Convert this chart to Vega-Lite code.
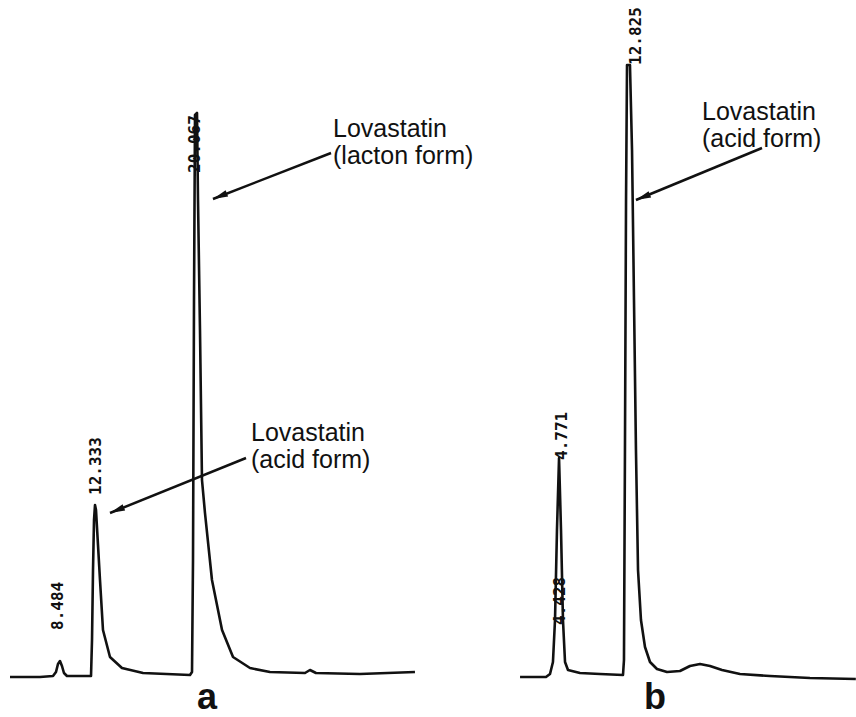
{
  "$schema": "https://vega.github.io/schema/vega-lite/v6.json",
  "padding": 0,
  "background": "white",
  "spacing": 10,
  "bounds": "flush",
  "config": {"view": {"stroke": null}},
  "datasets": {
    "traceA": [
      {"t": 3.10, "s": -2}, {"t": 6.41, "s": -2}, {"t": 7.84, "s": -1}, {"t": 8.17, "s": 3},
      {"t": 8.39, "s": 11}, {"t": 8.61, "s": 14}, {"t": 8.83, "s": 9}, {"t": 9.05, "s": 2},
      {"t": 9.38, "s": -1}, {"t": 12.03, "s": -1}, {"t": 12.14, "s": 35}, {"t": 12.25, "s": 105},
      {"t": 12.36, "s": 155}, {"t": 12.47, "s": 170}, {"t": 12.58, "s": 165}, {"t": 12.80, "s": 130},
      {"t": 13.02, "s": 95}, {"t": 13.35, "s": 45}, {"t": 14.12, "s": 18}, {"t": 15.44, "s": 7},
      {"t": 17.76, "s": 2}, {"t": 22.94, "s": 0}, {"t": 23.16, "s": 3}, {"t": 23.27, "s": 115},
      {"t": 23.38, "s": 375}, {"t": 23.49, "s": 560}, {"t": 23.71, "s": 562}, {"t": 23.82, "s": 475},
      {"t": 24.04, "s": 345}, {"t": 24.26, "s": 195}, {"t": 24.59, "s": 162}, {"t": 25.36, "s": 95},
      {"t": 26.47, "s": 45}, {"t": 27.68, "s": 18}, {"t": 29.55, "s": 7}, {"t": 31.75, "s": 3},
      {"t": 35.61, "s": 2}, {"t": 36.16, "s": 5}, {"t": 36.82, "s": 2}, {"t": 41.67, "s": 1},
      {"t": 47.73, "s": 3}
    ],
    "traceB": [
      {"t": 0.54, "s": -2}, {"t": 3.44, "s": -2}, {"t": 3.89, "s": 1}, {"t": 4.22, "s": 13},
      {"t": 4.45, "s": 55}, {"t": 4.67, "s": 145}, {"t": 4.90, "s": 217}, {"t": 5.12, "s": 145},
      {"t": 5.34, "s": 55}, {"t": 5.57, "s": 13}, {"t": 5.90, "s": 5}, {"t": 7.24, "s": 2},
      {"t": 9.48, "s": 1}, {"t": 12.05, "s": 0}, {"t": 12.16, "s": 15}, {"t": 12.27, "s": 225},
      {"t": 12.39, "s": 475}, {"t": 12.50, "s": 610}, {"t": 12.83, "s": 610}, {"t": 13.06, "s": 525},
      {"t": 13.28, "s": 375}, {"t": 13.50, "s": 225}, {"t": 13.73, "s": 105}, {"t": 14.06, "s": 55},
      {"t": 14.51, "s": 28}, {"t": 15.07, "s": 13}, {"t": 15.85, "s": 6}, {"t": 16.97, "s": 3},
      {"t": 18.42, "s": 4}, {"t": 19.54, "s": 9}, {"t": 20.66, "s": 11}, {"t": 21.78, "s": 9},
      {"t": 23.12, "s": 5}, {"t": 25.13, "s": 1}, {"t": 28.48, "s": -1}, {"t": 32.95, "s": -3},
      {"t": 38.08, "s": -4}
    ],
    "peaksA": [
      {"t": 8.39, "s": 45, "label": "8.484"},
      {"t": 12.58, "s": 180, "label": "12.333"},
      {"t": 23.49, "s": 502, "label": "20.067"}
    ],
    "peaksB": [
      {"t": 5.23, "s": 215, "label": "4.771"},
      {"t": 5.01, "s": 50, "label": "4.428"},
      {"t": 13.50, "s": 610, "label": "12.825"}
    ],
    "notesA": [
      {"t": 38.70, "s": 538, "note": "Lovastatin\n(lacton form)"},
      {"t": 29.66, "s": 234, "note": "Lovastatin\n(acid form)"}
    ],
    "notesB": [
      {"t": 20.88, "s": 555, "note": "Lovastatin\n(acid form)"}
    ],
    "arrowsA": [
      {"t": 38.48, "s": 522, "t2": 25.47, "s2": 476},
      {"t": 29.11, "s": 217, "t2": 14.12, "s2": 162}
    ],
    "arrowsB": [
      {"t": 27.59, "s": 527, "t2": 13.50, "s2": 475}
    ],
    "panelA": [{"t": 24.81, "s": -42, "label": "a"}],
    "panelB": [{"t": 15.63, "s": -42, "label": "b"}]
  },
  "hconcat": [
    {
      "width": 490,
      "height": 717,
      "encoding": {
        "x": {"field": "t", "type": "quantitative", "scale": {"domain": [2, 56], "nice": false, "zero": false}, "axis": null},
        "y": {"field": "s", "type": "quantitative", "scale": {"domain": [-42, 675], "nice": false, "zero": false}, "axis": null}
      },
      "layer": [
        {"data": {"name": "traceA"}, "mark": {"type": "line", "color": "#111111", "strokeWidth": 2.6, "strokeJoin": "round"}},
        {"data": {"name": "peaksA"}, "mark": {"type": "text", "angle": 270, "align": "left", "baseline": "middle", "font": "DejaVu Sans Mono", "fontWeight": "bold", "fontSize": 16, "color": "#111111"}, "encoding": {"text": {"field": "label", "type": "nominal"}}},
        {"data": {"name": "notesA"}, "mark": {"type": "text", "align": "left", "baseline": "alphabetic", "lineBreak": "\n", "lineHeight": 27, "font": "Liberation Sans", "fontSize": 25, "color": "#111111"}, "encoding": {"text": {"field": "note", "type": "nominal"}}},
        {"data": {"name": "arrowsA"}, "mark": {"type": "rule", "color": "#111111", "strokeWidth": 2.5}, "encoding": {"x2": {"field": "t2"}, "y2": {"field": "s2"}}},
        {"data": {"name": "arrowsA"}, "mark": {"type": "point", "shape": "M0,0L2,-0.45L2,0.45Z", "size": 225, "filled": true, "opacity": 1, "color": "#111111", "angle": 338}, "encoding": {"x": {"field": "t2", "type": "quantitative"}, "y": {"field": "s2", "type": "quantitative"}}},
        {"data": {"name": "panelA"}, "mark": {"type": "text", "align": "center", "baseline": "bottom", "font": "Liberation Sans", "fontWeight": "bold", "fontSize": 36, "color": "#111111"}, "encoding": {"text": {"field": "label", "type": "nominal"}}}
      ]
    },
    {
      "width": 356,
      "height": 717,
      "encoding": {
        "x": {"field": "t", "type": "quantitative", "scale": {"domain": [-1.7, 38.1], "nice": false, "zero": false}, "axis": null},
        "y": {"field": "s", "type": "quantitative", "scale": {"domain": [-42, 675], "nice": false, "zero": false}, "axis": null}
      },
      "layer": [
        {"data": {"name": "traceB"}, "mark": {"type": "line", "color": "#111111", "strokeWidth": 2.6, "strokeJoin": "round"}},
        {"data": {"name": "peaksB"}, "mark": {"type": "text", "angle": 270, "align": "left", "baseline": "middle", "font": "DejaVu Sans Mono", "fontWeight": "bold", "fontSize": 16, "color": "#111111"}, "encoding": {"text": {"field": "label", "type": "nominal"}}},
        {"data": {"name": "notesB"}, "mark": {"type": "text", "align": "left", "baseline": "alphabetic", "lineBreak": "\n", "lineHeight": 27, "font": "Liberation Sans", "fontSize": 25, "color": "#111111"}, "encoding": {"text": {"field": "note", "type": "nominal"}}},
        {"data": {"name": "arrowsB"}, "mark": {"type": "rule", "color": "#111111", "strokeWidth": 2.5}, "encoding": {"x2": {"field": "t2"}, "y2": {"field": "s2"}}},
        {"data": {"name": "arrowsB"}, "mark": {"type": "point", "shape": "M0,0L2,-0.45L2,0.45Z", "size": 225, "filled": true, "opacity": 1, "color": "#111111", "angle": 338}, "encoding": {"x": {"field": "t2", "type": "quantitative"}, "y": {"field": "s2", "type": "quantitative"}}},
        {"data": {"name": "panelB"}, "mark": {"type": "text", "align": "center", "baseline": "bottom", "font": "Liberation Sans", "fontWeight": "bold", "fontSize": 36, "color": "#111111"}, "encoding": {"text": {"field": "label", "type": "nominal"}}}
      ]
    }
  ]
}
